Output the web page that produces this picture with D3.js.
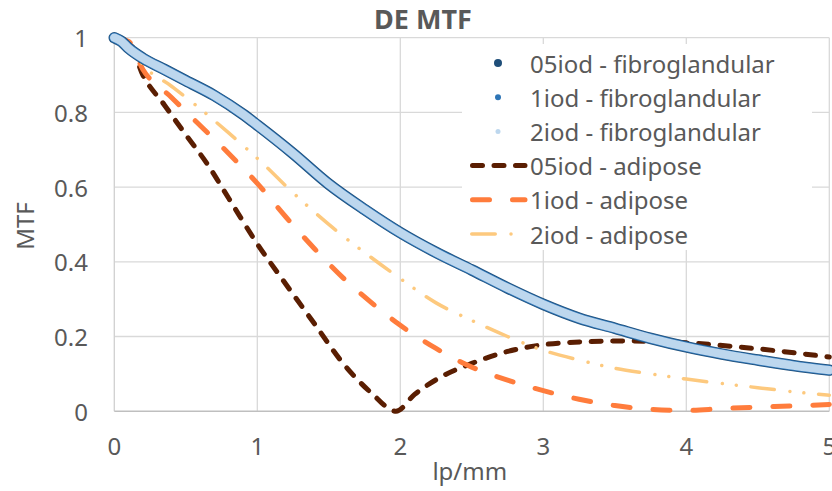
<!DOCTYPE html>
<html>
<head>
<meta charset="utf-8">
<script src="https://cdn.jsdelivr.net/npm/d3@7"></script>
<style>
  html, body { margin: 0; padding: 0; background: #fff; }
  svg { display: block; font-family: "Noto Sans", "Open Sans", sans-serif; }
</style>
</head>
<body>
<svg id="chart" width="832" height="491"></svg>
<script>
// ---- data ----
const title = "DE MTF";
const xLabel = "lp/mm";
const yLabel = "MTF";
const xTicks = [0, 1, 2, 3, 4, 5];
const yTicks = [0, 0.2, 0.4, 0.6, 0.8, 1];
const yTickLabels = ["0", "0.2", "0.4", "0.6", "0.8", "1"];

const fibX = [0, 0.05, 0.1, 0.2, 0.35, 0.5, 0.7, 0.9, 1.0, 1.25, 1.5, 1.75, 2.0, 2.25, 2.5, 2.75, 3.0, 3.25, 3.5, 3.75, 4.0, 4.25, 4.5, 4.75, 5.0];
const fib05 = [1.0, 0.99, 0.972, 0.945, 0.915, 0.885, 0.845, 0.795, 0.766, 0.69, 0.608, 0.54, 0.478, 0.425, 0.378, 0.33, 0.286, 0.249, 0.222, 0.195, 0.172, 0.153, 0.137, 0.122, 0.11];
const fib1  = [1.0, 0.99, 0.972, 0.945, 0.915, 0.885, 0.845, 0.795, 0.766, 0.69, 0.608, 0.54, 0.478, 0.425, 0.378, 0.33, 0.286, 0.249, 0.222, 0.195, 0.172, 0.153, 0.137, 0.122, 0.11];
const fib2  = [1.0, 0.99, 0.972, 0.945, 0.915, 0.885, 0.845, 0.795, 0.766, 0.69, 0.608, 0.54, 0.478, 0.425, 0.378, 0.33, 0.286, 0.249, 0.222, 0.195, 0.172, 0.153, 0.137, 0.122, 0.11];

const adi05X = [0, 0.1, 0.2, 0.35, 0.5, 0.65, 0.8, 1.0, 1.2, 1.4, 1.6, 1.8, 1.97, 2.1, 2.3, 2.5, 2.75, 3.0, 3.3, 3.6, 4.0, 4.5, 5.0];
const adi05  = [1.0, 0.99, 0.9, 0.82, 0.74, 0.662, 0.57, 0.448, 0.34, 0.234, 0.128, 0.048, 0.0, 0.045, 0.095, 0.128, 0.16, 0.178, 0.186, 0.188, 0.183, 0.167, 0.145];

const adi1X = [0, 0.1, 0.2, 0.4, 0.6, 0.8, 1.0, 1.2, 1.4, 1.6, 1.8, 2.0, 2.25, 2.5, 2.75, 3.0, 3.25, 3.5, 3.75, 4.0, 4.25, 4.5, 4.75, 5.0];
const adi1  = [1.0, 0.99, 0.915, 0.84, 0.765, 0.69, 0.61, 0.52, 0.435, 0.357, 0.29, 0.23, 0.168, 0.118, 0.083, 0.055, 0.032, 0.015, 0.005, 0.002, 0.007, 0.011, 0.014, 0.018];

const adi2X = [0, 0.1, 0.2, 0.4, 0.6, 0.8, 1.0, 1.25, 1.5, 1.75, 2.0, 2.25, 2.5, 2.75, 3.0, 3.25, 3.5, 3.75, 4.0, 4.25, 4.5, 4.75, 5.0];
const adi2  = [1.0, 0.985, 0.928, 0.87, 0.81, 0.745, 0.677, 0.585, 0.5, 0.425, 0.355, 0.29, 0.243, 0.2, 0.163, 0.137, 0.115, 0.1, 0.086, 0.074, 0.063, 0.052, 0.043];

const seriesNames = ["05iod - fibroglandular", "1iod - fibroglandular", "2iod - fibroglandular",
                     "05iod - adipose", "1iod - adipose", "2iod - adipose"];

// ---- layout ----
const svg = d3.select("#chart");
const x = d3.scaleLinear().domain([0, 5]).range([114.3, 829.3]);
const y = d3.scaleLinear().domain([0, 1]).range([411.2, 37.7]);

const zip = (xs, ys) => xs.map((v, i) => [v, ys[i]]);
const line = d3.line().x(d => x(d[0])).y(d => y(d[1])).curve(d3.curveMonotoneX);
const FS = 24;
const txtColor = "#595959";

// grid
svg.append("g").selectAll("line").data(yTicks.filter(t => t > 0)).join("line")
  .attr("x1", x(0)).attr("x2", x(5)).attr("y1", d => y(d)).attr("y2", d => y(d))
  .attr("stroke", "#d9d9d9").attr("stroke-width", 1.3);
svg.append("g").selectAll("line").data(xTicks.filter(t => t > 0)).join("line")
  .attr("y1", y(0)).attr("y2", y(1)).attr("x1", d => x(d)).attr("x2", d => x(d))
  .attr("stroke", "#d9d9d9").attr("stroke-width", 1.3);
// axis lines
svg.append("line").attr("x1", x(0)).attr("x2", x(0)).attr("y1", y(0)).attr("y2", y(1))
  .attr("stroke", "#d0d0d0").attr("stroke-width", 1.3);
svg.append("line").attr("x1", x(0)).attr("x2", x(5)).attr("y1", y(0)).attr("y2", y(0))
  .attr("stroke", "#bfbfbf").attr("stroke-width", 1.5);

// tick labels
svg.append("g").selectAll("text").data(yTicks).join("text")
  .attr("x", 88).attr("y", d => y(d)).attr("text-anchor", "end")
  .attr("dominant-baseline", "central").attr("font-size", FS).attr("fill", txtColor)
  .text((d, i) => yTickLabels[i]);
svg.append("g").selectAll("text").data(xTicks).join("text")
  .attr("x", d => x(d)).attr("y", 445).attr("text-anchor", "middle")
  .attr("dominant-baseline", "central").attr("font-size", FS).attr("fill", txtColor)
  .text(d => d);

// axis titles
svg.append("text").attr("x", x(2.5) - 2).attr("y", 470).attr("text-anchor", "middle")
  .attr("dominant-baseline", "central").attr("font-size", FS).attr("fill", txtColor).text(xLabel);
svg.append("text").attr("transform", "translate(24,226) rotate(-90)").attr("text-anchor", "middle")
  .attr("dominant-baseline", "central").attr("font-size", FS).attr("fill", txtColor).text(yLabel);
// title
svg.append("text").attr("x", 423).attr("y", 18).attr("text-anchor", "middle")
  .attr("dominant-baseline", "central").attr("font-size", 27).attr("font-weight", "bold")
  .attr("fill", txtColor).text(title);

// styles
const adiStyles = [
  { color: "#5a1e02", width: 5, dash: "10,11.5" },
  { color: "#ff7c3c", width: 5, dash: "17,23" },
  { color: "#fdc97e", width: 3.5, dash: "23.5,15.75,0.01,14,0.01,14.75" }
];
const fibStyles = [
  { color: "#1f4e79", width: 11.5, r: 4 },
  { color: "#2e75b6", width: 10, r: 3 },
  { color: "#bdd7ee", width: 8.5, r: 2.5 }
];

// adipose lines
const adiData = [zip(adi05X, adi05), zip(adi1X, adi1), zip(adi2X, adi2)];
adiData.forEach((d, i) => {
  svg.append("path").datum(d).attr("d", line).attr("fill", "none")
    .attr("stroke", adiStyles[i].color).attr("stroke-width", adiStyles[i].width)
    .attr("stroke-linecap", "round").attr("stroke-linejoin", "round")
    .attr("stroke-dasharray", adiStyles[i].dash);
});
// fibroglandular (dense markers forming a band)
const fibData = [zip(fibX, fib05), zip(fibX, fib1), zip(fibX, fib2)];
fibData.forEach((d, i) => {
  svg.append("path").datum(d).attr("d", line).attr("fill", "none")
    .attr("stroke", fibStyles[i].color).attr("stroke-width", fibStyles[i].width)
    .attr("stroke-linecap", "round").attr("stroke-linejoin", "round");
});

// legend
const lg = svg.append("g");
lg.append("rect").attr("x", 462).attr("y", 44).attr("width", 350).attr("height", 206).attr("fill", "#fff");
const rowY = i => 63 + i * 34.2;
seriesNames.forEach((name, i) => {
  if (i < 3) {
    lg.append("circle").attr("cx", 498).attr("cy", rowY(i)).attr("r", fibStyles[i].r)
      .attr("fill", fibStyles[i].color);
  } else {
    const s = adiStyles[i - 3];
    lg.append("line").attr("x1", 470 + s.width / 2).attr("x2", 525).attr("y1", rowY(i)).attr("y2", rowY(i))
      .attr("stroke", s.color).attr("stroke-width", s.width).attr("stroke-linecap", "round")
      .attr("stroke-dasharray", s.dash);
  }
  lg.append("text").attr("x", 530).attr("y", rowY(i)).attr("dominant-baseline", "central")
    .attr("font-size", FS).attr("fill", txtColor).text(name);
});
</script>
</body>
</html>
